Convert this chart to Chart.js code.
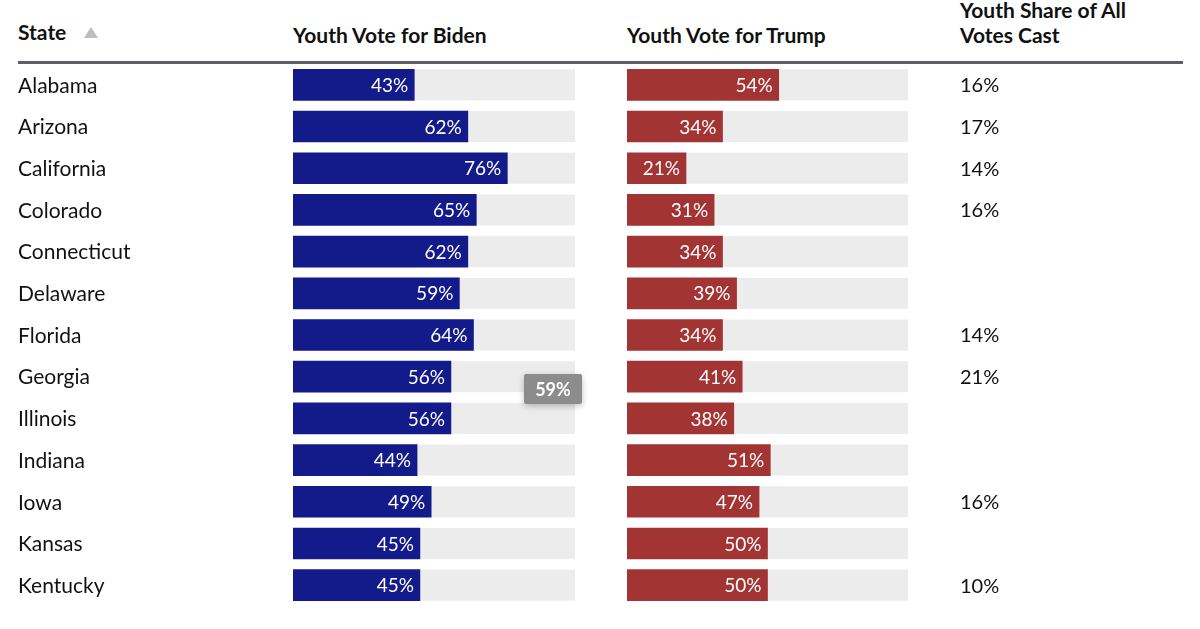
<!DOCTYPE html>
<html>
<head>
<meta charset="utf-8">
<script src="https://cdn.jsdelivr.net/npm/chart.js@4.4.1/dist/chart.umd.min.js"></script>
<style>
  body { margin: 0; background: #fff; width: 1200px; height: 629px; overflow: hidden; position: relative; font-family: Lato, sans-serif; color: #111; }
  .hdr { position: absolute; font-weight: bold; font-size: 21px; line-height: 25px; color: #111; }
  .rule { position: absolute; left: 18px; top: 61px; width: 1165px; height: 3px; background: #5e5e66; }
  .tri { position: absolute; left: 84px; top: 27px; width: 0; height: 0; border-left: 7px solid transparent; border-right: 7px solid transparent; border-bottom: 11px solid #bdbdbd; }
  .tip { position: absolute; left: 524px; top: 374px; width: 58px; height: 30px; background: #8c8c8c; color: #fff; font-weight: bold; font-size: 18px; line-height: 30px; text-align: center; box-shadow: 0 2px 6px rgba(0,0,0,0.25); border-radius: 2px; }
  canvas { position: absolute; }
</style>
</head>
<body>
<div class="hdr" style="left:18px;top:19px">State</div>
<div class="tri"></div>
<div class="hdr" style="left:293px;top:22px">Youth Vote for Biden</div>
<div class="hdr" style="left:627px;top:22px">Youth Vote for Trump</div>
<div class="hdr" style="left:960px;top:-3px">Youth Share of All<br>Votes Cast</div>
<div class="rule"></div>

<canvas id="biden" width="575" height="542" style="left:0;top:64px"></canvas>
<canvas id="trump" width="573" height="542" style="left:627px;top:64px"></canvas>
<div class="tip">59%</div>

<script>
// table data
const states = ['Alabama', 'Arizona', 'California', 'Colorado', 'Connecticut', 'Delaware',
  'Florida', 'Georgia', 'Illinois', 'Indiana', 'Iowa', 'Kansas', 'Kentucky'];
const bidenPct = [43, 62, 76, 65, 62, 59, 64, 56, 56, 44, 49, 45, 45];
const trumpPct = [54, 34, 21, 31, 34, 39, 34, 41, 38, 51, 47, 50, 50];
const youthShare = ['16%', '17%', '14%', '16%', '', '', '14%', '21%', '', '', '16%', '', '10%'];

const BAR_H = 31;

// grey track behind each bar, 0..100 on the x scale
const trackPlugin = {
  id: 'track',
  beforeDatasetsDraw(chart) {
    const ctx = chart.ctx, xs = chart.scales.x, ys = chart.scales.y;
    const x0 = xs.getPixelForValue(0), x1 = xs.getPixelForValue(100);
    ctx.save();
    ctx.fillStyle = '#ececec';
    states.forEach((s, i) => {
      const y = ys.getPixelForValue(i);
      ctx.fillRect(x0, y - BAR_H / 2, x1 - x0, BAR_H);
    });
    ctx.restore();
  }
};

// white % label at the end of each bar, plus the text column beside it
const labelPlugin = {
  id: 'labels',
  afterDatasetsDraw(chart, args, opts) {
    const ctx = chart.ctx, ys = chart.scales.y;
    const meta = chart.getDatasetMeta(0);
    const vals = chart.data.datasets[0].data;
    ctx.save();
    ctx.fillStyle = '#fff';
    ctx.font = '19px Lato';
    ctx.textAlign = 'right';
    ctx.textBaseline = 'middle';
    meta.data.forEach((bar, i) => {
      ctx.fillText(vals[i] + '%', bar.x - 6, bar.y + 1);
    });
    // side column (state names / youth share)
    ctx.fillStyle = '#111';
    ctx.font = opts.font;
    ctx.textAlign = 'left';
    opts.text.forEach((t, i) => {
      ctx.fillText(t, opts.x(chart), ys.getPixelForValue(i) + 1);
    });
    ctx.restore();
  }
};

function barChart(id, values, color, side, pad) {
  return new Chart(document.getElementById(id), {
    type: 'bar',
    data: {
      labels: states,
      datasets: [{
        data: values,
        backgroundColor: color,
        barThickness: BAR_H
      }]
    },
    options: {
      indexAxis: 'y',
      responsive: false,
      animation: false,
      layout: { padding: pad },
      plugins: {
        legend: { display: false },
        tooltip: { enabled: false },
        labels: side
      },
      scales: {
        x: { min: 0, max: 100, display: false },
        y: { display: false }
      }
    },
    plugins: [trackPlugin, labelPlugin]
  });
}

barChart('biden', bidenPct, '#131a8a',
  { text: states, font: '21px Lato', x: () => 18 },
  { left: 293, right: 0, top: 0, bottom: 0 });
barChart('trump', trumpPct, '#a33434',
  { text: youthShare, font: '20px Lato', x: c => c.chartArea.right + 52 },
  { left: 0, right: 292, top: 0, bottom: 0 });
</script>
</body>
</html>
